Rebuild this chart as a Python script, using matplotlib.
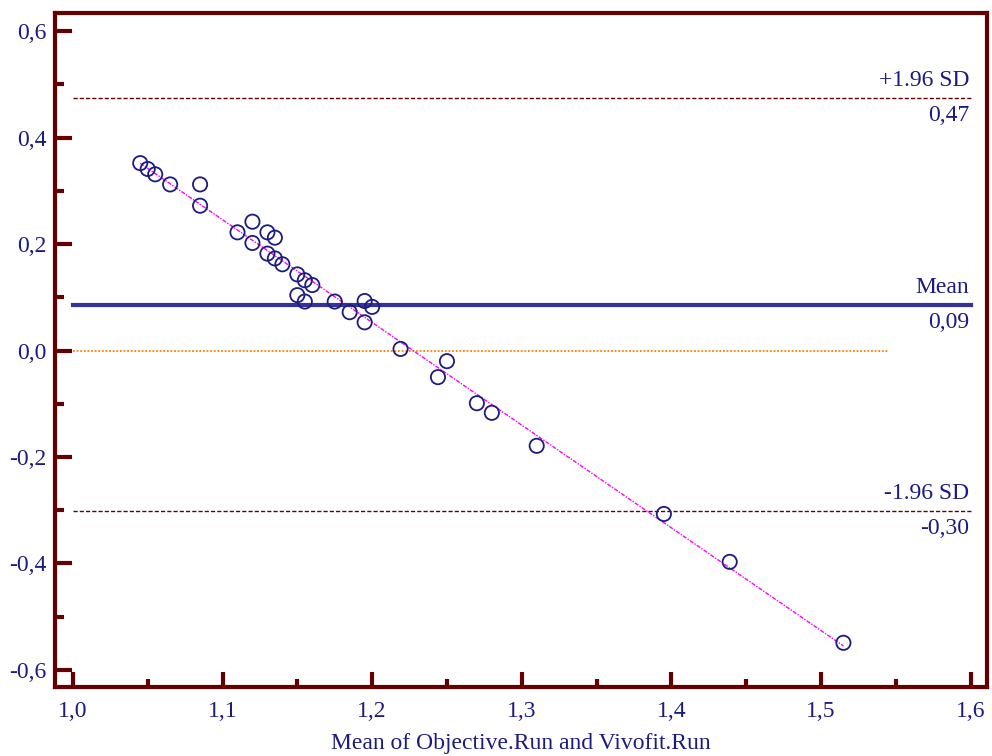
import numpy as np
import matplotlib
matplotlib.use('Agg')
import matplotlib.pyplot as plt
from matplotlib.ticker import MultipleLocator, FuncFormatter

# Bland-Altman data: mean of the two methods vs difference
mean_vals = [1.045, 1.050, 1.055, 1.065, 1.085, 1.085, 1.110, 1.120, 1.120, 1.130,
             1.135, 1.130, 1.135, 1.140, 1.150, 1.155, 1.160, 1.150, 1.155, 1.175,
             1.185, 1.195, 1.200, 1.195, 1.219, 1.250, 1.244, 1.270, 1.280, 1.310,
             1.395, 1.439, 1.515]
diff_vals = [0.352, 0.341, 0.331, 0.312, 0.312, 0.272, 0.222, 0.242, 0.202, 0.222,
             0.212, 0.182, 0.173, 0.162, 0.143, 0.132, 0.123, 0.104, 0.092, 0.092,
             0.072, 0.093, 0.082, 0.053, 0.003, -0.020, -0.050, -0.099, -0.117, -0.179,
             -0.307, -0.397, -0.549]

mean_diff = 0.086
upper_loa = 0.474
lower_loa = -0.301

navy = '#1c1c80'
maroon = '#650000'

plt.rcParams['font.family'] = ['Liberation Serif', 'DejaVu Serif']

fig = plt.figure(figsize=(9.92, 7.56), dpi=100)
ax = fig.add_axes([0.0554, 0.0913, 0.9396, 0.8915])

# regression line through the points
coef = np.polyfit(mean_vals, diff_vals, 1)
xr = np.array([min(mean_vals), max(mean_vals)])
ax.plot(xr, np.polyval(coef, xr), color='#ff00ff', lw=1, ls=(0, (3, 1, 1, 1)), zorder=2)

ax.plot([1.0, 1.545], [0, 0], color='#ff8000', lw=1.3, ls=(0, (1, 1)), zorder=1)
ax.plot([1.0, 1.6], [mean_diff, mean_diff], color='#333399', lw=3, zorder=3)
ax.plot([1.0, 1.6], [upper_loa, upper_loa], color=maroon, lw=1, ls=(0, (3, 1.5)), zorder=1)
ax.plot([1.0, 1.6], [lower_loa, lower_loa], color=maroon, lw=1, ls=(0, (3, 1.5)), zorder=1)

ax.scatter(mean_vals, diff_vals, s=105, facecolors='none', edgecolors=navy,
           linewidths=1.3, zorder=4)

# labels on the reference lines
for y, top, bottom in [(upper_loa, '+1.96 SD', '0,47'),
                       (mean_diff, 'Mean', '0,09'),
                       (lower_loa, '-1.96 SD', '-0,30')]:
    ax.annotate(top, (1.6, y), xytext=(-1, 5), textcoords='offset points',
                ha='right', va='bottom', color=navy, fontsize=17)
    ax.annotate(bottom, (1.6, y), xytext=(-1, -5), textcoords='offset points',
                ha='right', va='top', color=navy, fontsize=17)

ax.set_xlim(0.988, 1.611)
ax.set_ylim(-0.632, 0.634)

ax.xaxis.set_major_locator(MultipleLocator(0.1))
ax.xaxis.set_minor_locator(MultipleLocator(0.05))
ax.yaxis.set_major_locator(MultipleLocator(0.2))
ax.yaxis.set_minor_locator(MultipleLocator(0.1))
fmt = FuncFormatter(lambda v, p: f'{v:.1f}'.replace('.', ',').replace('-0,0', '0,0'))
ax.xaxis.set_major_formatter(fmt)
ax.yaxis.set_major_formatter(fmt)

ax.tick_params(which='both', direction='in', color=maroon, width=3,
               labelcolor=navy, labelsize=17, top=False, right=False)
ax.tick_params(axis='y', which='major', length=12, pad=6)
ax.tick_params(axis='y', which='minor', length=6.5)
ax.tick_params(axis='x', which='major', length=11, pad=10)
ax.tick_params(axis='x', which='minor', length=6)

for sp in ax.spines.values():
    sp.set_color(maroon)
    sp.set_linewidth(3)

ax.set_xlabel('Mean of Objective.Run and Vivofit.Run', color=navy, fontsize=17, labelpad=8)

fig.savefig('out.png', dpi=100)
